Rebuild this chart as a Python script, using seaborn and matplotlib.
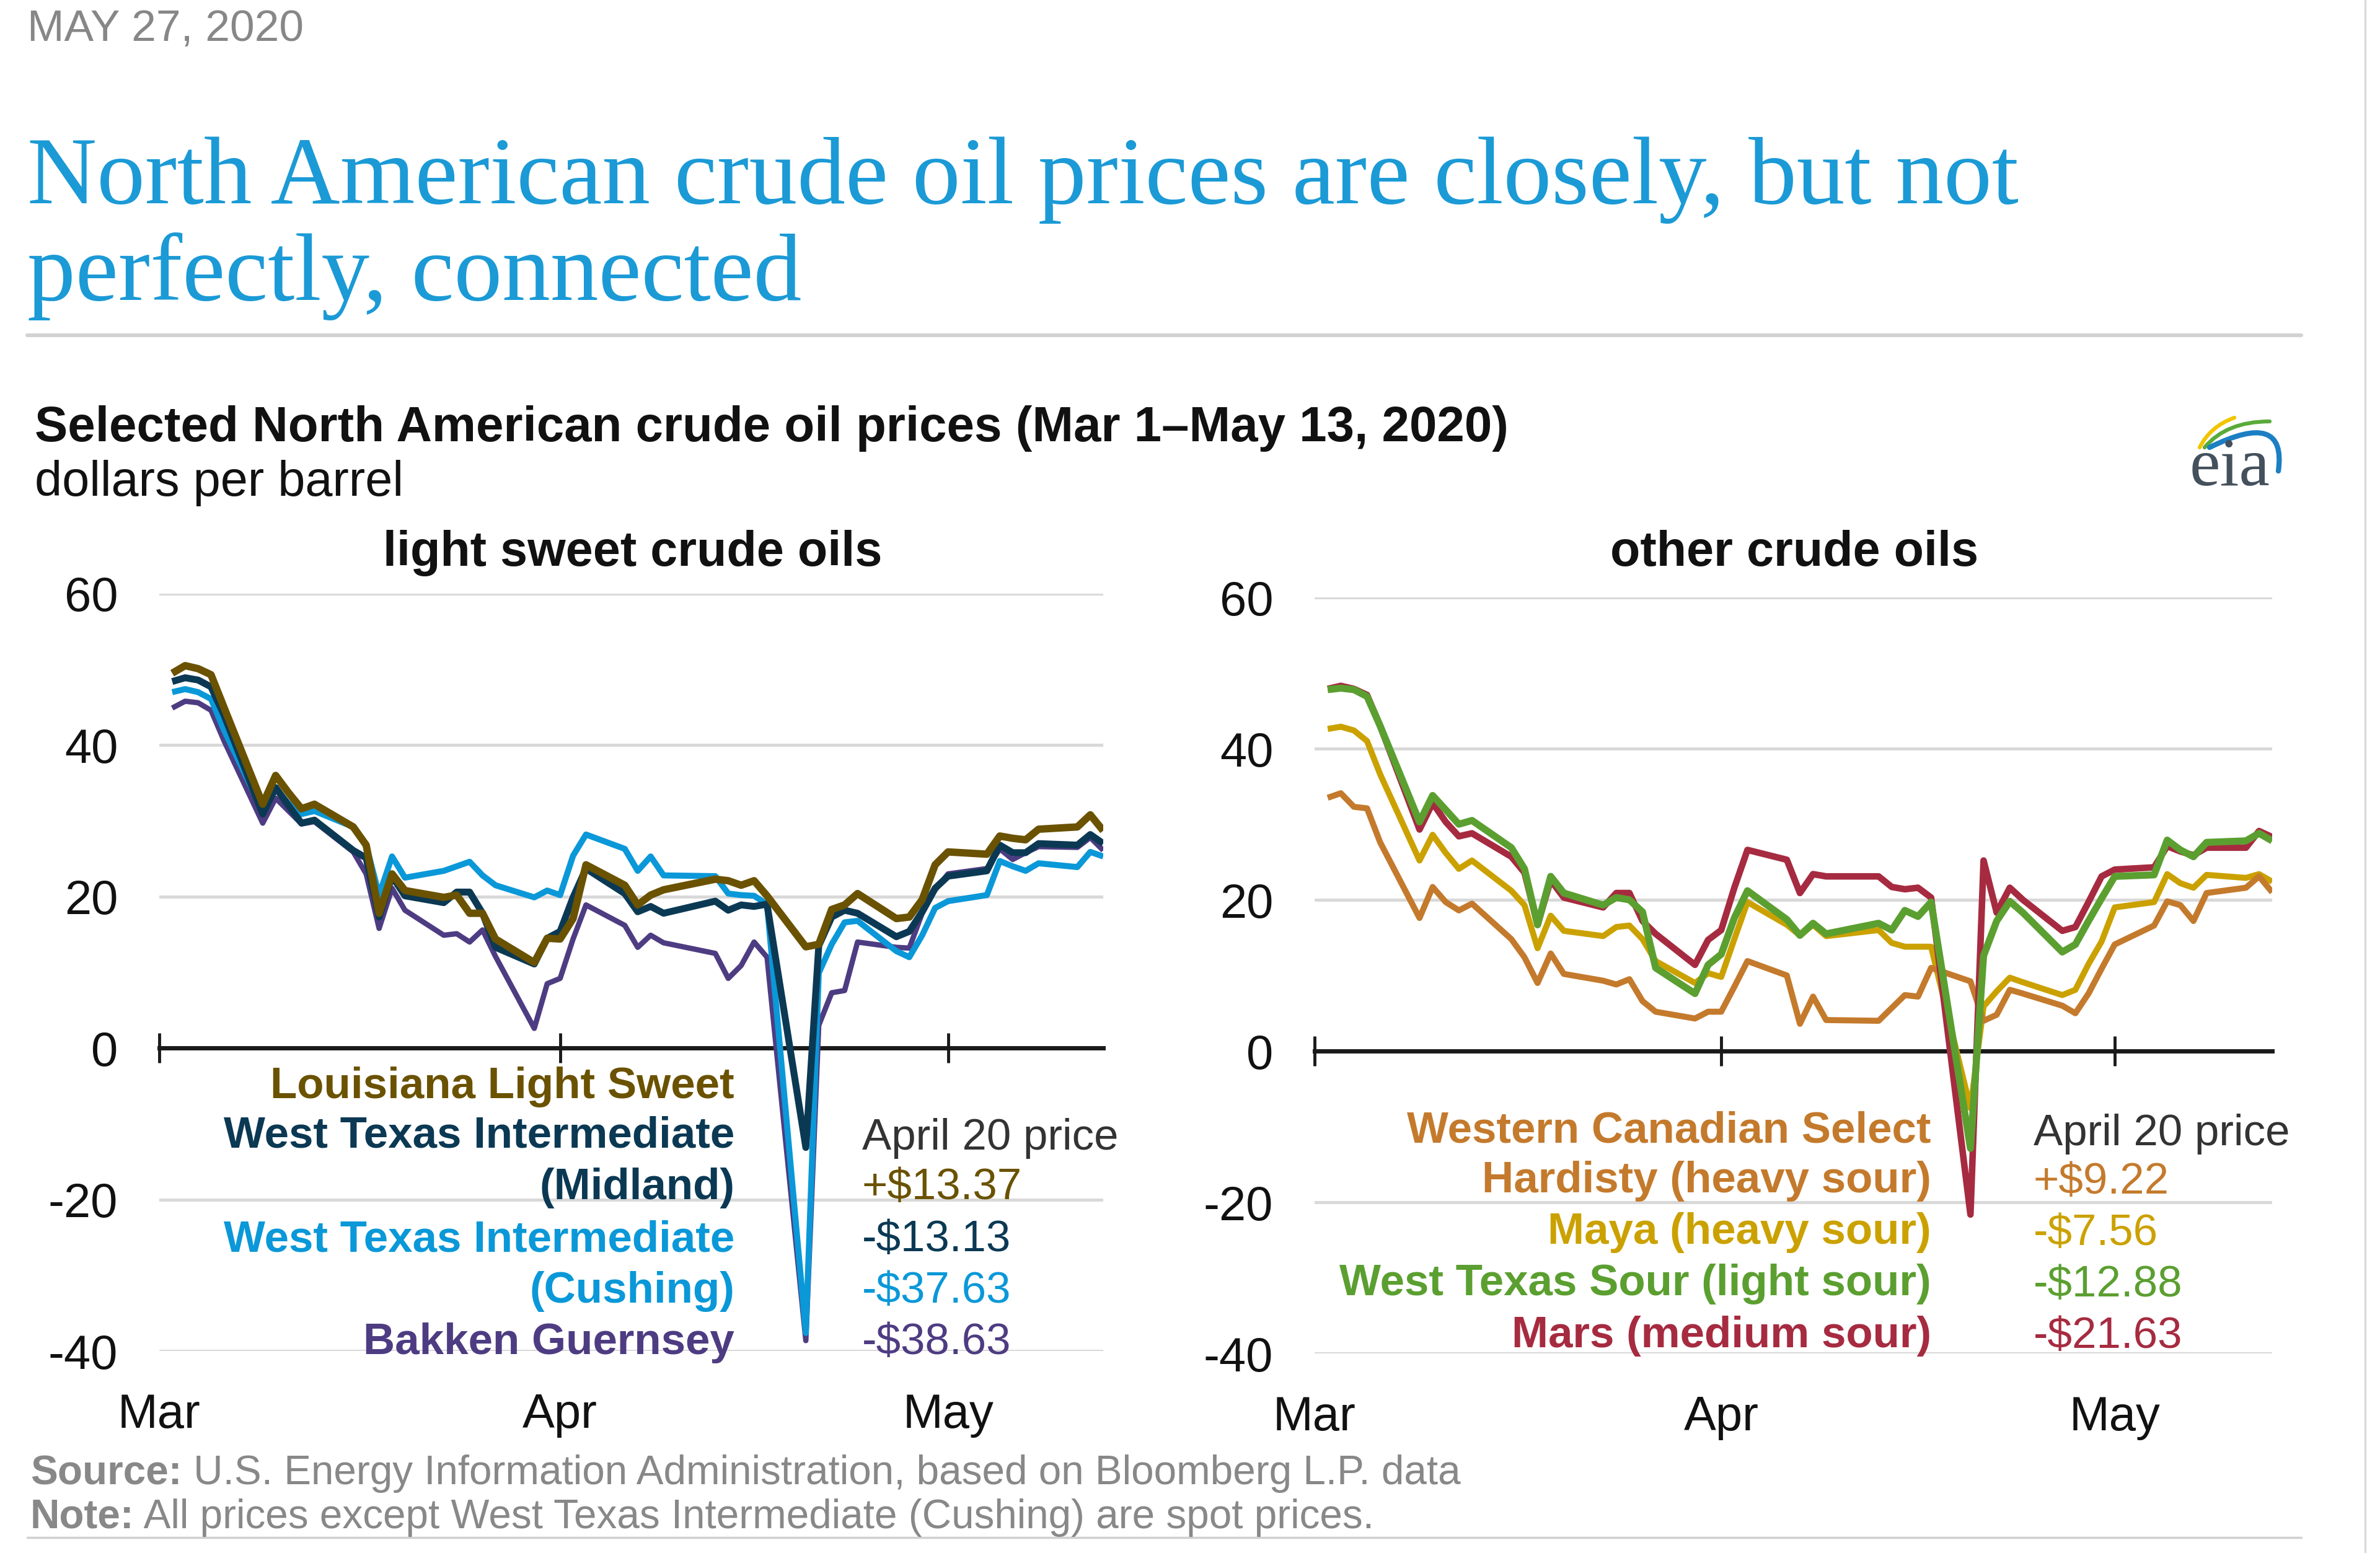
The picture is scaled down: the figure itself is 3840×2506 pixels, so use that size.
import matplotlib
matplotlib.use("Agg")
import matplotlib.pyplot as plt
import matplotlib.dates as mdates
from matplotlib.path import Path
from matplotlib.patches import PathPatch
from matplotlib.lines import Line2D
import seaborn as sns
import pandas as pd

sns.set_theme(style="white")
plt.rcParams["font.family"] = ["Liberation Sans", "DejaVu Sans"]
plt.rcParams["axes.unicode_minus"] = False

# ---------------- data ----------------
dates = [
    "2020-03-02", "2020-03-03", "2020-03-04", "2020-03-05", "2020-03-06",
    "2020-03-09", "2020-03-10", "2020-03-11", "2020-03-12", "2020-03-13",
    "2020-03-16", "2020-03-17", "2020-03-18", "2020-03-19", "2020-03-20",
    "2020-03-23", "2020-03-24", "2020-03-25", "2020-03-26", "2020-03-27",
    "2020-03-30", "2020-03-31", "2020-04-01", "2020-04-02", "2020-04-03",
    "2020-04-06", "2020-04-07", "2020-04-08", "2020-04-09",
    "2020-04-13", "2020-04-14", "2020-04-15", "2020-04-16", "2020-04-17",
    "2020-04-20", "2020-04-21", "2020-04-22", "2020-04-23", "2020-04-24",
    "2020-04-27", "2020-04-28", "2020-04-29", "2020-04-30", "2020-05-01",
    "2020-05-04", "2020-05-05", "2020-05-06", "2020-05-07", "2020-05-08",
    "2020-05-11", "2020-05-12", "2020-05-13",
]

louisiana_light_sweet = [
    49.5, 50.5, 50.1, 49.3, 45.0,
    32.2, 36.0, 33.7, 31.6, 32.2,
    29.2, 26.8, 17.8, 23.0, 20.8,
    19.9, 20.2, 17.8, 17.8, 14.4,
    11.3, 14.5, 14.4, 17.1, 24.2,
    21.5, 18.9, 20.2, 20.9,
    22.3, 22.1, 21.5, 22.1, 20.1,
    13.37, 13.7, 18.3, 18.9, 20.4,
    17.1, 17.3, 19.6, 24.2, 25.9,
    25.6, 28.0, 27.7, 27.5, 28.9,
    29.2, 30.8, 28.7]

wti_midland = [
    48.4, 48.9, 48.6, 47.7, 44.0,
    30.9, 34.4, 32.0, 29.7, 30.1,
    26.1, 25.1, 17.3, 22.7, 20.1,
    19.2, 20.6, 20.6, 17.8, 13.3,
    11.1, 14.5, 15.4, 19.9, 23.7,
    20.4, 18.0, 18.7, 17.8,
    19.4, 18.2, 18.9, 18.7, 19.0,
    -13.13, 13.5, 17.3, 18.2, 17.8,
    14.7, 15.4, 18.0, 21.1, 22.7,
    23.4, 26.8, 25.8, 25.8, 27.0,
    26.8, 28.2, 27.0]

wti_cushing = [
    47.0, 47.4, 47.0, 46.1, 42.0,
    31.3, 34.2, 32.3, 30.9, 31.3,
    29.2, 26.8, 20.2, 25.3, 22.5,
    23.4, 24.0, 24.6, 22.8, 21.5,
    19.9, 20.8, 20.2, 25.4, 28.2,
    26.3, 23.4, 25.3, 22.8,
    22.7, 20.4, 20.2, 20.1, 19.0,
    -37.63, 9.9, 13.7, 16.6, 16.8,
    12.8, 12.0, 14.9, 18.5, 19.4,
    20.2, 24.7, 24.0, 23.4, 24.4,
    23.9, 25.9, 25.3]

bakken_guernsey = [
    44.9, 45.8, 45.6, 44.6, 40.6,
    29.7, 33.0, 31.3, 29.6, 29.9,
    25.9, 23.0, 15.8, 21.1, 18.2,
    14.9, 15.1, 14.0, 15.6, 12.1,
    2.6, 8.5, 9.2, 14.4, 18.9,
    16.2, 13.3, 14.9, 13.9,
    12.5, 9.2, 10.9, 14.0, 12.0,
    -38.63, 3.0, 7.3, 7.6, 14.0,
    13.3, 13.2, 17.8, 20.9, 23.0,
    23.7, 26.3, 24.9, 25.8, 26.6,
    26.5, 27.8, 26.1]

wcs_hardisty = [
    33.5, 34.1, 32.3, 32.1, 27.6,
    17.6, 21.7, 19.7, 18.6, 19.5,
    14.8, 12.4, 9.0, 12.9, 10.2,
    9.3, 8.8, 9.5, 6.6, 5.2,
    4.3, 5.2, 5.2, 8.5, 11.9,
    10.0, 3.6, 7.2, 4.1,
    4.0, 5.7, 7.4, 7.2, 11.0,
    9.22, 4.0, 4.8, 8.1, 7.6,
    6.0, 5.0, 7.6, 10.9, 14.1,
    16.6, 19.8, 19.3, 17.2, 20.9,
    21.6, 23.1, 21.0]

maya = [
    42.6, 42.9, 42.4, 41.0, 36.6,
    25.2, 28.6, 26.2, 24.1, 25.2,
    21.2, 19.3, 13.6, 17.9, 15.9,
    15.2, 16.4, 16.6, 14.8, 11.9,
    9.0, 10.3, 9.8, 14.8, 19.7,
    16.7, 15.3, 16.7, 15.2,
    16.0, 14.3, 13.8, 13.8, 13.8,
    -7.56, 5.9, 7.9, 9.7, 9.1,
    7.4, 8.1, 11.5, 14.5, 19.0,
    19.7, 23.4, 22.2, 21.6, 23.3,
    22.9, 23.4, 22.4]

west_texas_sour = [
    47.8, 48.0, 47.8, 46.9, 43.0,
    30.3, 33.8, 31.9, 30.0, 30.5,
    26.9, 24.1, 16.7, 23.1, 20.9,
    19.3, 20.3, 20.0, 18.4, 11.0,
    7.6, 11.4, 12.8, 17.6, 21.2,
    17.4, 15.3, 16.9, 15.5,
    16.9, 16.0, 18.6, 17.8, 19.7,
    -12.88, 12.6, 17.2, 19.8, 18.3,
    13.1, 14.1, 17.2, 20.2, 23.1,
    23.3, 27.9, 26.6, 25.7, 27.6,
    27.8, 28.8, 27.8]

mars = [
    47.9, 48.3, 47.9, 47.1, 43.0,
    29.3, 32.8, 30.3, 28.4, 28.8,
    25.7, 23.6, 16.7, 22.6, 20.3,
    19.0, 20.9, 20.9, 17.2, 15.5,
    11.4, 14.7, 16.0, 21.6, 26.6,
    25.3, 20.9, 23.4, 23.1,
    23.1, 21.7, 21.4, 21.6, 20.3,
    -21.63, 25.2, 18.3, 21.6, 20.0,
    15.9, 16.4, 19.7, 23.1, 24.0,
    24.3, 27.1, 26.4, 25.9, 26.9,
    26.9, 29.1, 28.3]

y_ticks = [-40, -20, 0, 20, 40, 60]
x_start, x_end = "2020-03-01", "2020-05-13"

left_labels = ["Louisiana Light Sweet", "West Texas Intermediate\n(Midland)",
               "West Texas Intermediate\n(Cushing)", "Bakken Guernsey"]
left_prices = ["+$13.37", "-$13.13", "-$37.63", "-$38.63"]
right_labels = ["Western Canadian Select\nHardisty (heavy sour)", "Maya (heavy sour)",
                "West Texas Sour (light sour)", "Mars (medium sour)"]
right_prices = ["+$9.22", "-$7.56", "-$12.88", "-$21.63"]

C_LLS, C_MID, C_CUS, C_BAK = "#6a5200", "#0b3954", "#0a98d8", "#4e3c82"
C_WCS, C_MAYA, C_WTS, C_MARS = "#c47a2c", "#cba100", "#5b9f30", "#a62b40"

# series: (values, colour, linewidth, zorder)
left_series = [
    (bakken_guernsey, C_BAK, 6.2, 3),
    (wti_cushing, C_CUS, 7.0, 4),
    (wti_midland, C_MID, 8.0, 5),
    (louisiana_light_sweet, C_LLS, 8.6, 6),
]
right_series = [
    (maya, C_MAYA, 7.0, 3),
    (wcs_hardisty, C_WCS, 7.0, 4),
    (mars, C_MARS, 7.6, 5),
    (west_texas_sour, C_WTS, 8.2, 6),
]

# ---------------- figure ----------------
W, H, DPI = 3840, 2506, 100
fig = plt.figure(figsize=(W / DPI, H / DPI), dpi=DPI)
fig.patch.set_facecolor("white")
renderer = fig.canvas.get_renderer()


def fx(px):
    return px / W


def fy(py):
    return 1 - py / H


def put(x, y, s, size, **kw):
    return fig.text(fx(x), fy(y), s, fontsize=size, **kw)


def fit(x, y, s, target_w, size, **kw):
    t = put(x, y, s, size, **kw)
    w = t.get_window_extent(renderer).width
    t.set_fontsize(size * target_w / w)
    return t


def runs(x, y, parts, size, color):
    xx = x
    out = []
    for s, wgt in parts:
        t = put(xx, y, s, size, color=color, fontweight=wgt, va="baseline", ha="left")
        xx += t.get_window_extent(renderer).width
        out.append(t)
    return out


def hline(x0, x1, y, color, lw):
    fig.add_artist(Line2D([fx(x0), fx(x1)], [fy(y), fy(y)], color=color, lw=lw,
                          transform=fig.transFigure))


# header
fit(44, 48, "MAY 27, 2020", 446, 50, color="#878787", va="center", ha="left")
t1 = fit(44, 328, "North American crude oil prices are closely, but not", 3215, 110,
         family=["Liberation Serif", "DejaVu Serif"], color="#1b9ad6", va="baseline", ha="left")
put(44, 484, "perfectly, connected", t1.get_fontsize(),
    family=["Liberation Serif", "DejaVu Serif"], color="#1b9ad6", va="baseline", ha="left")
hline(44, 3713, 541, "#d2d2d2", 4.4)

fit(56, 712, "Selected North American crude oil prices (Mar 1\u2013May 13, 2020)", 2375, 56,
    fontweight="bold", color="#111111", va="baseline", ha="left")
fit(56, 800, "dollars per barrel", 595, 56, color="#111111", va="baseline", ha="left")

# eia logo
def bez(p0, c, p1, color, lw):
    verts = [(fx(p0[0]), fy(p0[1])), (fx(c[0]), fy(c[1])), (fx(p1[0]), fy(p1[1]))]
    path = Path(verts, [Path.MOVETO, Path.CURVE3, Path.CURVE3])
    fig.add_artist(PathPatch(path, transform=fig.transFigure, fill=False,
                             edgecolor=color, lw=lw, capstyle="round"))


bez((3549, 722), (3566, 688), (3605, 674), "#f2c500", 4.5)
bez((3557, 722), (3592, 680), (3662, 680), "#5aaa3a", 4.5)
bez((3565, 722), (3690, 660), (3676, 760), "#1c7fc4", 6)
fit(3533, 783, "eia", 130, 60, family=["Liberation Serif", "DejaVu Serif"],
    color="#44515c", va="baseline", ha="left")

# ---------------- axes ----------------
ax_l = fig.add_axes([257 / W, 1 - 2180 / H, (1780 - 257) / W, (2180 - 958) / H])
ax_r = fig.add_axes([2121 / W, 1 - 2184 / H, (3666 - 2121) / W, (2184 - 964) / H])

dts = pd.to_datetime(dates)


def draw(ax, series):
    for vals, col, lw, z in series:
        df = pd.DataFrame({"date": dts, "price": vals})
        sns.lineplot(data=df, x="date", y="price", ax=ax, color=col, linewidth=lw,
                     zorder=z, estimator=None, solid_joinstyle="round",
                     solid_capstyle="butt", legend=False)


def style(ax):
    ax.set_facecolor("white")
    ax.set_xlim(pd.Timestamp(x_start), pd.Timestamp(x_end))
    ax.set_ylim(min(y_ticks), max(y_ticks))
    ax.set_yticks(y_ticks)
    ax.yaxis.grid(True, color="#d9d9d9", linewidth=3.6)
    ax.xaxis.grid(False)
    ax.set_axisbelow(True)
    for s in ["top", "right", "left"]:
        ax.spines[s].set_visible(False)
    ax.spines["bottom"].set_position(("data", 0))
    ax.spines["bottom"].set_color("#1a1a1a")
    ax.spines["bottom"].set_linewidth(5)
    ax.spines["bottom"].set_zorder(2.5)
    ax.xaxis.set_major_locator(mdates.MonthLocator())
    ax.tick_params(axis="x", direction="inout", length=34, width=3.5, color="#1a1a1a",
                   bottom=True, labelbottom=False)
    ax.tick_params(axis="y", length=0, pad=48, labelsize=56, labelcolor="#111111")
    ax.set_xlabel("")
    ax.set_ylabel("")
    sec = ax.secondary_xaxis("bottom")
    sec.xaxis.set_major_locator(mdates.MonthLocator())
    sec.xaxis.set_major_formatter(mdates.DateFormatter("%b"))
    sec.tick_params(length=0, pad=48, labelsize=56, labelcolor="#111111")
    sec.spines["bottom"].set_visible(False)


draw(ax_l, left_series)
draw(ax_r, right_series)
style(ax_l)
style(ax_r)

# panel titles
put(1021, 913, "light sweet crude oils", 57, fontweight="bold", color="#111111",
    ha="center", va="baseline")
put(2895, 913, "other crude oils", 57, fontweight="bold", color="#111111",
    ha="center", va="baseline")

# ---------------- labels ----------------
LS = 51
lab_kw = dict(fontweight="bold", ha="right", va="baseline")
val_kw = dict(ha="left", va="baseline")

# left block
put(1185, 1772, left_labels[0], LS, color=C_LLS, **lab_kw)
l1a, l1b = left_labels[1].split("\n")
put(1185, 1852, l1a, LS, color=C_MID, **lab_kw)
put(1185, 1935, l1b, LS, color=C_MID, **lab_kw)
l2a, l2b = left_labels[2].split("\n")
put(1185, 2019, l2a, LS, color=C_CUS, **lab_kw)
put(1185, 2102, l2b, LS, color=C_CUS, **lab_kw)
put(1185, 2185, left_labels[3], LS, color=C_BAK, **lab_kw)

put(1391, 1855, "April 20 price", LS, color="#333333", **val_kw)
for txt, col, yy in zip(left_prices, [C_LLS, C_MID, C_CUS, C_BAK], [1935, 2019, 2102, 2185]):
    put(1391, yy, txt, LS, color=col, **val_kw)

# right block
r0a, r0b = right_labels[0].split("\n")
put(3116, 1843, r0a, LS, color=C_WCS, **lab_kw)
put(3116, 1924, r0b, LS, color=C_WCS, **lab_kw)
put(3116, 2007, right_labels[1], LS, color=C_MAYA, **lab_kw)
put(3116, 2090, right_labels[2], LS, color=C_WTS, **lab_kw)
put(3116, 2174, right_labels[3], LS, color=C_MARS, **lab_kw)

put(3281, 1848, "April 20 price", LS, color="#333333", **val_kw)
for txt, col, yy in zip(right_prices, [C_WCS, C_MAYA, C_WTS, C_MARS], [1926, 2009, 2092, 2175]):
    put(3281, yy, txt, LS, color=col, **val_kw)

# ---------------- footer ----------------
src_parts = [("Source:", "bold"), (" U.S. Energy Information Administration, based on Bloomberg L.P. data", "normal")]
tmp = runs(49, 2395, src_parts, 48, "#888888")
total = sum(t.get_window_extent(renderer).width for t in tmp)
for t in tmp:
    t.remove()
fs = 48 * 2307 / total
runs(49, 2395, src_parts, fs, "#888888")
runs(49, 2466, [("Note:", "bold"),
                (" All prices except West Texas Intermediate (Cushing) are spot prices.", "normal")],
     fs, "#888888")

hline(44, 3713, 2481, "#d0d0d0", 2.5)
fig.add_artist(Line2D([fx(3816), fx(3816)], [0, 1], color="#dcdcdc", lw=2.5,
                      transform=fig.transFigure))

fig.savefig("out.png", dpi=DPI, facecolor="white")
